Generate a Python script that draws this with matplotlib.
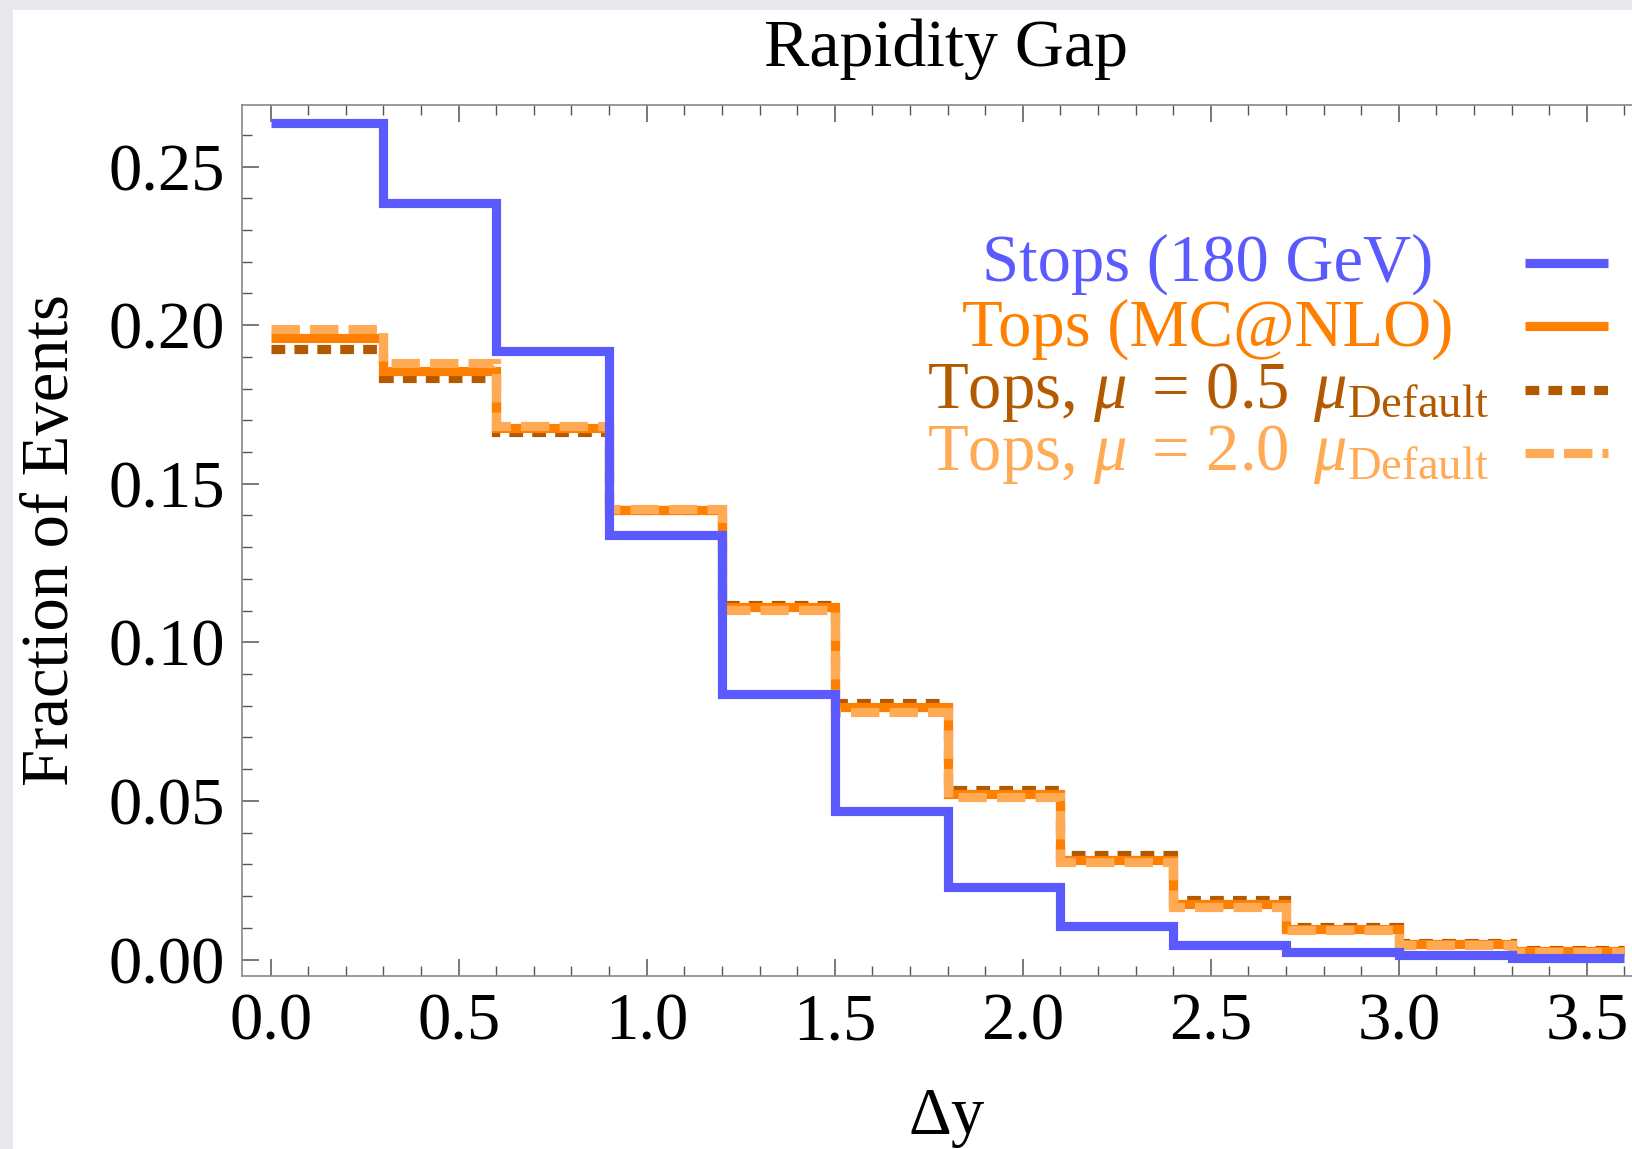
import matplotlib
matplotlib.use("Agg")
import matplotlib.pyplot as plt
import numpy as np
from matplotlib.patches import Rectangle
from matplotlib.ticker import MultipleLocator, FormatStrFormatter

plt.rcParams['font.family'] = ['Liberation Serif', 'DejaVu Serif']
plt.rcParams['mathtext.fontset'] = 'custom'
plt.rcParams['mathtext.rm'] = 'Liberation Serif'
plt.rcParams['mathtext.it'] = 'Liberation Serif:italic'

# bin edges in delta y
edges = np.round(np.arange(0, 3.61, 0.3), 2)

stops_180 = [0.2638, 0.2385, 0.1919, 0.1339, 0.0837, 0.0469,
             0.0230, 0.0105, 0.0046, 0.0023, 0.0013, 0.0006]
tops_mcnlo = [0.1959, 0.1854, 0.1677, 0.1417, 0.1112, 0.0797,
              0.0522, 0.0315, 0.0174, 0.0095, 0.0049, 0.0027]
tops_mu05 = [0.1926, 0.1834, 0.1663, 0.1417, 0.1119, 0.0810,
             0.0535, 0.0328, 0.0187, 0.0102, 0.0052, 0.0030]
tops_mu20 = [0.1988, 0.1880, 0.1683, 0.1421, 0.1102, 0.0781,
             0.0512, 0.0308, 0.0167, 0.0092, 0.0046, 0.0024]

labels = ["Stops (180 GeV)", "Tops (MC@NLO)",
          r"Tops, $\mu\,$ = 0.5 $\,\mu_{\mathrm{Default}}$",
          r"Tops, $\mu\,$ = 2.0 $\,\mu_{\mathrm{Default}}$"]

blue = '#5a5aff'
orange = '#ff8000'
brown = '#b35900'
light = '#ffaa55'

W, H = 1632, 1149
fig = plt.figure(figsize=(W / 100, H / 100), dpi=100)
fig.patch.set_facecolor('#e8e9ec')
fig.patches.append(Rectangle((13 / W, 0), 1, 1 - 10 / H, transform=fig.transFigure,
                             facecolor='white', edgecolor='none', zorder=-5))

ax = fig.add_axes([241.5 / W, 1 - 976 / H, 1 - 241.5 / W, (976 - 105) / H])
ax.set_facecolor('white')

lw = 6.6
ax.stairs(tops_mu05, edges, baseline=None, color=brown, lw=lw,
          linestyle=(0, (1.5, 1.0)), zorder=2)
ax.stairs(tops_mcnlo, edges, baseline=None, color=orange, lw=lw, zorder=3)
ax.stairs(tops_mu20, edges, baseline=None, color=light, lw=lw,
          linestyle=(0, (3.1, 1.1)), zorder=4)
ax.stairs(stops_180, edges, baseline=None, color=blue, lw=lw, zorder=5)

ax.set_xlim(-0.0774, 3.62)
ax.set_ylim(-0.0052, 0.2694)

ax.xaxis.set_major_locator(MultipleLocator(0.5))
ax.xaxis.set_minor_locator(MultipleLocator(0.1))
ax.yaxis.set_major_locator(MultipleLocator(0.05))
ax.yaxis.set_minor_locator(MultipleLocator(0.01))
ax.xaxis.set_major_formatter(FormatStrFormatter('%.1f'))
ax.yaxis.set_major_formatter(FormatStrFormatter('%.2f'))

ax.tick_params(which='both', direction='in', top=True, right=False,
               labelsize=48, colors='#555555', labelcolor='black')
ax.tick_params(which='major', length=12, width=1.1, pad=12)
ax.tick_params(which='minor', length=7, width=1.0)
for side in ['left', 'bottom', 'top']:
    ax.spines[side].set_color('#888888')
    ax.spines[side].set_linewidth(1.2)
ax.spines['right'].set_visible(False)

ax.set_title("Rapidity Gap", fontsize=49, pad=28, x=0.507)
ax.set_xlabel(r"$\Delta$y", fontsize=48, labelpad=25, x=0.507)
ax.set_ylabel("Fraction of Events", fontsize=48, labelpad=19)

# legend: centred text, sample line on the right
rows_y = [281, 346, 408, 470]
line_y = [263, 326, 390, 453]
colors = [blue, orange, brown, light]
styles = ['-', '-', (0, (1.5, 1.0)), (0, (3.1, 1.1))]
for lab, ty, ly, c, ls in zip(labels, rows_y, line_y, colors, styles):
    fig.text(1208 / W, 1 - ty / H, lab, color=c, fontsize=48,
             ha='center', va='baseline')
    fig.add_artist(plt.Line2D([1525 / W, 1608 / W], [1 - ly / H, 1 - ly / H],
                              transform=fig.transFigure, color=c, lw=lw,
                              linestyle=ls, solid_capstyle='butt',
                              dash_capstyle='butt'))

fig.savefig("out.png", dpi=100, facecolor=fig.get_facecolor())
